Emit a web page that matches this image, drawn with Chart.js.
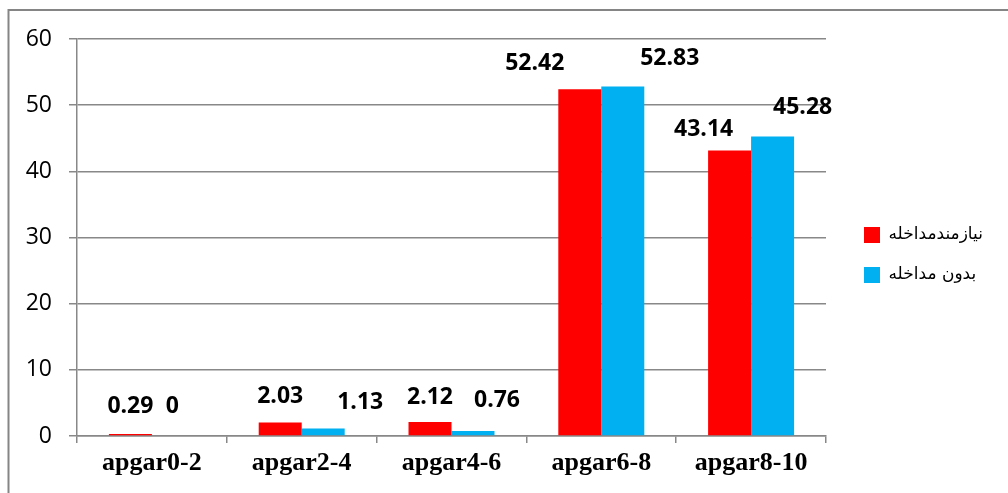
<!DOCTYPE html>
<html>
<head>
<meta charset="utf-8">
<script src="https://cdn.jsdelivr.net/npm/chart.js@4.4.1/dist/chart.umd.min.js"></script>
<style>
html,body{margin:0;padding:0;background:#fff;}
#wrap{position:relative;width:1008px;height:493px;}
</style>
</head>
<body>
<div id="wrap"><canvas id="c"></canvas></div>
<script>
const categories = ['apgar0-2','apgar2-4','apgar4-6','apgar6-8','apgar8-10'];
const seriesNames = ['نیازمندمداخله','بدون مداخله'];
const needIntervention = [0.29, 2.03, 2.12, 52.42, 43.14];
const noIntervention = [0, 1.13, 0.76, 52.83, 45.28];
const yTicks = [0,10,20,30,40,50,60];

const GRID = '#888888';

const frame = {
  id:'frame',
  beforeDraw(chart){
    const ctx = chart.ctx;
    ctx.save();
    ctx.strokeStyle = '#858585';
    ctx.lineWidth = 2;
    ctx.beginPath();
    ctx.moveTo(8.5, 493);
    ctx.lineTo(8.5, 10);
    ctx.lineTo(1008, 10);
    ctx.stroke();
    ctx.restore();
  }
};

const legendFix = {
  id:'legendFix',
  beforeLayout(chart, args, opts){
    const lg = chart.legend;
    if(lg && !lg._fixWrapped){
      const f = lg.fit.bind(lg);
      lg.fit = function(){ f(); this.width = opts.width; };
      lg._fixWrapped = true;
    }
  },
  afterLayout(chart, args, opts){
    const lg = chart.legend;
    if(!lg) return;
    lg.left += opts.dx; lg.right += opts.dx;
    lg.top += opts.dy; lg.bottom += opts.dy;
  }
};

const valueLabels = {
  id:'valueLabels',
  afterDatasetsDraw(chart, args, opts){
    const ctx = chart.ctx;
    ctx.save();
    ctx.font = opts.font;
    ctx.fillStyle = '#000';
    ctx.textAlign = 'center';
    ctx.textBaseline = 'middle';
    chart.data.datasets.forEach((ds, di) => {
      const meta = chart.getDatasetMeta(di);
      meta.data.forEach((bar, i) => {
        const s = opts.shift[di][i];
        ctx.fillText(String(ds.data[i]), bar.x + s[0], bar.y + s[1]);
      });
    });
    ctx.restore();
  }
};

new Chart(document.getElementById('c'), {
  type:'bar',
  data:{
    labels: categories,
    datasets:[
      {label: seriesNames[0], data: needIntervention, backgroundColor:'#FF0000', borderWidth:0},
      {label: seriesNames[1], data: noIntervention, backgroundColor:'#00B0F0', borderWidth:0}
    ]
  },
  options:{
    responsive:true,
    maintainAspectRatio:false,
    animation:false,
    devicePixelRatio:1,
    categoryPercentage:0.574,
    barPercentage:1,
    layout:{padding:{top:39,left:0,right:0,bottom:0}},
    plugins:{
      tooltip:{enabled:false},
      legend:{
        position:'right',
        align:'center',
        labels:{
          boxWidth:16, boxHeight:16,
          padding:23,
          color:'#000',
          font:{family:'"DejaVu Sans", sans-serif', size:17}
        }
      },
      legendFix:{width:182, dx:15, dy:-11},
      valueLabels:{
        font:'bold 23px "Open Sans", sans-serif',
        shift:[
          [[0,-28],[0,-26],[0,-25],[-45,-26],[-26,-21]],
          [[-1,-30],[37,-26],[24,-31],[47,-28],[30,-29]]
        ]
      }
    },
    scales:{
      x:{
        afterFit(s){ s.height = 57; },
        grid:{display:true, drawOnChartArea:false, drawTicks:true, tickLength:7, color:GRID, lineWidth:1.5, offset:true},
        border:{display:true, color:GRID, width:1.5},
        ticks:{color:'#000', padding:5, font:{family:'"Liberation Serif", serif', size:26, weight:'bold'}}
      },
      y:{
        min:0, max:60,
        afterFit(s){ s.width = 77; },
        afterBuildTicks(s){ s.ticks = yTicks.map(v => ({value:v})); },
        grid:{color:GRID, lineWidth:1.5, drawTicks:true, tickLength:8},
        border:{display:true, color:GRID, width:1.5},
        ticks:{color:'#000', padding:17, font:{family:'"Open Sans", sans-serif', size:23}}
      }
    }
  },
  plugins:[frame, legendFix, valueLabels]
});
</script>
</body>
</html>
